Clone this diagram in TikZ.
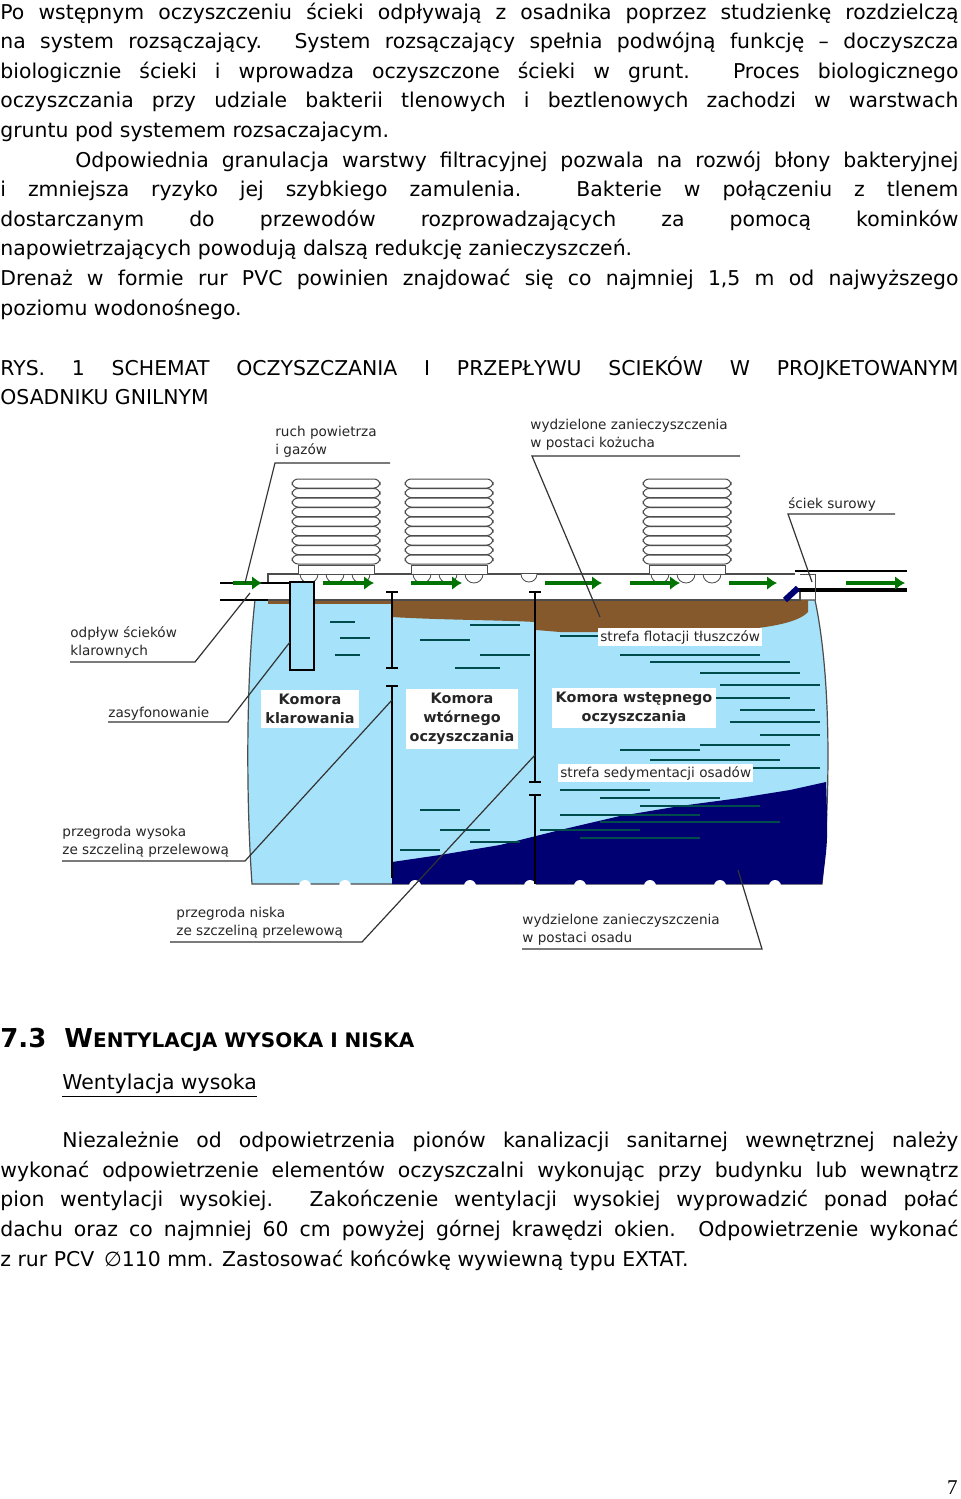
\documentclass[tikz,border=0pt]{standalone}
\usepackage{fontspec}
\usetikzlibrary{arrows.meta}
\setmainfont{DejaVu Sans}
\newfontfamily\serifpg{Liberation Serif}
\begin{document}
\begin{tikzpicture}[x=0.5pt,y=-0.5pt,
  txt/.style={anchor=base west,inner sep=0pt,font=\fontsize{10.2}{12}\selectfont},
  lbl/.style={anchor=base west,inner sep=0pt,font=\fontsize{6.8}{8.6}\selectfont,align=left,text=black!85},
  kom/.style={fill=white,inner sep=2pt,font=\bfseries\fontsize{7.2}{9.4}\selectfont,align=center,text=black!85},
  lead/.style={black!80,line width=0.6pt},
  rib/.style={draw=black!70,fill=white,line width=0.5pt,rounded corners=3pt},
  garr/.style={green!45!black,line width=2.2pt,-{Latex[length=5pt,width=7pt]}},
  streak/.style={teal!60!black,line width=1pt}]
\useasboundingbox (0,0) rectangle (960,1499);
\fill[white] (0,0) rectangle (960,1499);
% ---------- top text ----------
\node[txt] (l1) at (0,19) {\makebox[479pt][s]{Po wstępnym oczyszczeniu ścieki odpływają z osadnika poprzez studzienkę rozdzielczą}};
\node[txt] (l2) at (0,48.6) {\makebox[479pt][s]{na system rozsączający. System rozsączający spełnia podwójną funkcję – doczyszcza}};
\node[txt] (l3) at (0,78.2) {\makebox[479pt][s]{biologicznie ścieki i wprowadza oczyszczone ścieki w grunt. Proces biologicznego}};
\node[txt] (l4) at (0,107.8) {\makebox[479pt][s]{oczyszczania przy udziale bakterii tlenowych i beztlenowych zachodzi w warstwach}};
\node[txt] (l5) at (0,137.4) {gruntu pod systemem rozsaczajacym.};
\node[txt] (l6) at (75,167) {\makebox[441.5pt][s]{Odpowiednia granulacja warstwy filtracyjnej pozwala na rozwój błony bakteryjnej}};
\node[txt] (l7) at (0,196.6) {\makebox[479pt][s]{i zmniejsza ryzyko jej szybkiego zamulenia. Bakterie w połączeniu z tlenem}};
\node[txt] (l8) at (0,226.2) {\makebox[479pt][s]{dostarczanym do przewodów rozprowadzających za pomocą kominków}};
\node[txt] (l9) at (0,255.8) {napowietrzających powodują dalszą redukcję zanieczyszczeń.};
\node[txt] (l10) at (0,285.4) {\makebox[479pt][s]{Drenaż w formie rur PVC powinien znajdować się co najmniej 1,5 m od najwyższego}};
\node[txt] (l11) at (0,315) {poziomu wodonośnego.};
\node[txt] (r1) at (0,375) {\makebox[479pt][s]{RYS. 1 SCHEMAT OCZYSZCZANIA I PRZEPŁYWU SCIEKÓW W PROJKETOWANYM}};
\node[txt] (r2) at (0,404.6) {OSADNIKU GNILNYM};
% ---------- diagram ----------
\path[fill=cyan!35!white,draw=black!70,line width=0.6pt]
  (255,600) .. controls (246,680) and (246,800) .. (252,884) -- (822,884)
  .. controls (830,800) and (832,680) .. (815,600) -- cycle;
\fill[blue!45!black]
  (392,878) -- (392,862) -- (440,855) -- (500,845) -- (560,830) -- (620,816) -- (680,806)
  -- (740,798) -- (790,790) -- (826,782) .. controls (828,840) .. (822,884) -- (392,884) -- cycle;
\foreach \xa/\xb/\yy in {330/355/622,340/370/638,335/360/655,410/450/612,470/520/625,420/470/640,
  480/530/655,455/500/668,420/460/810,440/490/830,470/520/842,400/440/850,
  560/640/636,600/700/645,620/760/655,650/790/662,700/800/673,720/820/685,690/790/698,
  740/815/710,730/820/722,760/820/735,700/790/745,620/700/750,650/780/760,700/820/768,
  560/650/790,600/720/798,640/760/806,560/700/815,600/780/822,540/640/830,580/700/838}
  \draw[streak] (\xa,\yy) -- (\xb,\yy);
\fill[brown!70!black] (392,600) -- (808,600) -- (808,612) .. controls (790,632) and (700,634) .. (600,632)
  -- (560,632) -- (536,630) -- (535,622) .. controls (500,620) and (440,620) .. (392,617) -- cycle;
\fill[brown!70!black] (268,600) rectangle (392,604);
\foreach \bx in {305,345,415,470,530,580,650,720,775} \fill[white] (\bx,886) circle (6);
\path[fill=white,draw=black!70,line width=0.6pt] (268,574) -- (800,574) -- (800,600) -- (268,600) -- cycle;
\foreach \rx in {292,405,643} {
  \foreach \k in {0,...,8} \draw[rib] (\rx,479+\k*9.5) rectangle (\rx+88,488+\k*9.5);
  \draw[black!70,fill=white] (\rx+6,565) rectangle (\rx+82,574);
  \foreach \a in {0,1,2} \draw[black!70] (\rx+8+\a*26,574) arc (180:0:9);
}
\draw[black!70,fill=white] (521,574) arc (180:0:8);
\draw[black,line width=1pt] (392,592) -- (392,668) (392,686) -- (392,878);
\draw[black,line width=1pt] (386,592) -- (398,592) (386,668) -- (398,668) (386,686) -- (398,686);
\draw[black,line width=1pt] (535,592) -- (535,782) (535,795) -- (535,884);
\draw[black,line width=1pt] (529,592) -- (541,592) (529,782) -- (541,782) (529,795) -- (541,795);
\draw[black,line width=1.2pt,fill=cyan!35!white] (290,582) -- (314,582) -- (314,670) -- (290,670) -- cycle;
\fill[white] (220,584) rectangle (289,599);
\draw[black,line width=1pt] (220,583) -- (290,583) (220,600) -- (268,600);
\fill[white] (795,571) rectangle (907,590);
\draw[black,line width=1.2pt] (795,571) -- (907,571);
\draw[black,line width=1.6pt] (795,590) -- (907,590);
\draw[blue!45!black,line width=3pt] (798,588) -- (785,600);
\draw[black!70] (800,574) -- (815,574) -- (815,600);
\foreach \xa/\xb in {233/262,323/374,411/462,545/602,630/680,729/777,846/905}
  \draw[garr] (\xa,583) -- (\xb,583);
\node[kom] (kk) at (310,709) {Komora\\klarowania};
\node[kom] (kw) at (462,719) {Komora\\wtórnego\\oczyszczania};
\node[kom] (kp) at (634,708) {Komora wstępnego\\oczyszczania};
\node[lbl,fill=white,inner sep=1pt] (sf) at (598,641) {strefa flotacji tłuszczów};
\node[lbl,fill=white,inner sep=1pt] (ss) at (558,777) {strefa sedymentacji osadów};
\node[lbl] (a1) at (275,454) {ruch powietrza\\i gazów};
\draw[lead] (390,463) -- (275,463) -- (245,583);
\node[lbl] (a2) at (530,447) {wydzielone zanieczyszczenia\\w postaci kożucha};
\draw[lead] (740,456) -- (532,456) -- (600,617);
\node[lbl] (a3) at (788,508) {ściek surowy};
\draw[lead] (895,514) -- (788,514) -- (812,582);
\node[lbl] (a4) at (70,655) {odpływ ścieków\\klarownych};
\draw[lead] (70,662) -- (195,662) -- (250,593);
\node[lbl] (a5) at (108,717) {zasyfonowanie};
\draw[lead] (108,722) -- (228,722) -- (290,642);
\node[lbl] (a6) at (62,854) {przegroda wysoka\\ze szczeliną przelewową};
\draw[lead] (62,861) -- (245,861) -- (392,700);
\node[lbl] (a7) at (176,935) {przegroda niska\\ze szczeliną przelewową};
\draw[lead] (170,942) -- (362,942) -- (535,755);
\node[lbl] (a8) at (522,942) {wydzielone zanieczyszczenia\\w postaci osadu};
\draw[lead] (522,949) -- (762,949) -- (738,870);
\node[anchor=base west,inner sep=0pt,font=\bfseries\fontsize{13}{15}\selectfont] (h) at (0,1047)
  {7.3\hspace{9pt}W{\fontsize{10}{12}\selectfont ENTYLACJA WYSOKA I NISKA}};
\node[txt] (ws) at (62,1089) {\underline{Wentylacja wysoka}};
\node[txt] (p1) at (62,1147) {\makebox[448pt][s]{Niezależnie od odpowietrzenia pionów kanalizacji sanitarnej wewnętrznej należy}};
\node[txt] (p2) at (0,1177) {\makebox[479pt][s]{wykonać odpowietrzenie elementów oczyszczalni wykonując przy budynku lub wewnątrz}};
\node[txt] (p3) at (0,1206.6) {\makebox[479pt][s]{pion wentylacji wysokiej. Zakończenie wentylacji wysokiej wyprowadzić ponad połać}};
\node[txt] (p4) at (0,1236.2) {\makebox[479pt][s]{dachu oraz co najmniej 60 cm powyżej górnej krawędzi okien. Odpowietrzenie wykonać}};
\node[txt] (p5) at (0,1266) {z rur PCV \,∅110 mm. Zastosować końcówkę wywiewną typu EXTAT.};
\node[anchor=base east,inner sep=0pt,font=\serifpg\fontsize{10.5}{12}\selectfont] (pg) at (958,1494) {7};
\end{tikzpicture}
\end{document}
